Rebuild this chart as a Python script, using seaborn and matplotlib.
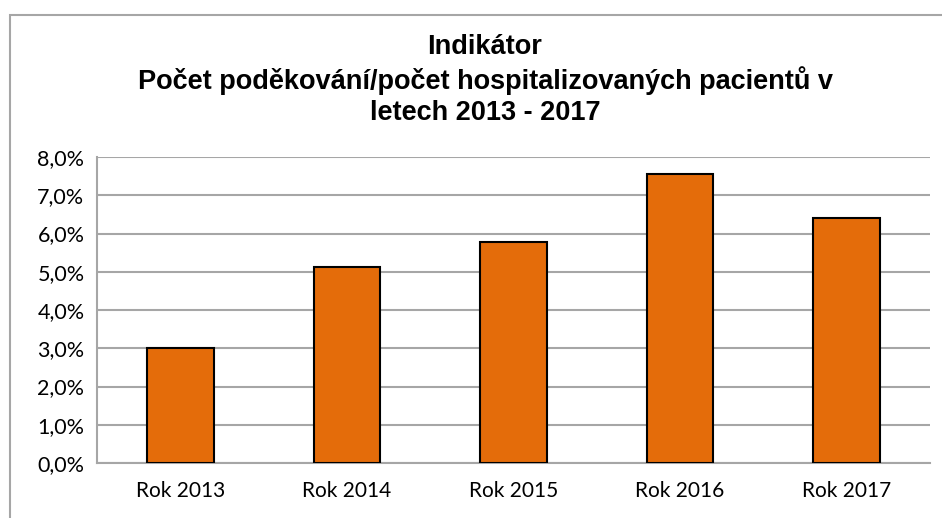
import matplotlib
matplotlib.use('Agg')
import matplotlib.pyplot as plt
import seaborn as sns
import pandas as pd
from matplotlib.patches import Rectangle
from matplotlib.ticker import FuncFormatter, FixedLocator

years = ['Rok 2013', 'Rok 2014', 'Rok 2015', 'Rok 2016', 'Rok 2017']
ratio = [3.0, 5.13, 5.79, 7.55, 6.41]
title = 'Indikátor\nPočet poděkování/počet hospitalizovaných pacientů v\nletech 2013 - 2017'

df = pd.DataFrame({'year': years, 'ratio': ratio})

sns.set_style('white')
plt.rcParams['font.family'] = ['Lato', 'DejaVu Sans']
plt.rcParams['text.color'] = 'black'
plt.rcParams['xtick.labelcolor'] = 'black'
plt.rcParams['ytick.labelcolor'] = 'black'

fig = plt.figure(figsize=(9.42, 5.18), dpi=100)
ax = fig.add_axes([97 / 942, 1 - 463 / 518, 833 / 942, 306 / 518])

sns.barplot(data=df, x='year', y='ratio', color='#E46C0A', saturation=1,
            width=0.4, edgecolor='black', linewidth=1.5, ax=ax, zorder=3)

ax.set_ylim(0, 8)
ax.set_xlim(-0.5, len(years) - 0.5)
ax.set_yticks(range(0, 9))
ax.yaxis.set_major_formatter(FuncFormatter(lambda v, p: f'{v:.1f}%'.replace('.', ',')))
ax.grid(axis='y', color='#A6A6A6', linewidth=1.5, zorder=0)
ax.set_axisbelow(True)
ax.set_xlabel('')
ax.set_ylabel('')

for s in ['top', 'right']:
    ax.spines[s].set_visible(False)
for s in ['left', 'bottom']:
    ax.spines[s].set_color('#A6A6A6')
    ax.spines[s].set_linewidth(1.5)

ax.tick_params(axis='y', length=6, width=1.5, color='#A6A6A6', labelsize=15.5, pad=3)
ax.tick_params(axis='x', which='major', length=0, labelsize=15, pad=13)
ax.xaxis.set_minor_locator(FixedLocator([i - 0.5 for i in range(len(years) + 1)]))
ax.tick_params(axis='x', which='minor', length=7, width=1.5, color='#A6A6A6', direction='out')

fig.text(485 / 942, 1 - 80 / 518, title, ha='center', va='center', fontsize=19.5,
         fontweight='bold', family=['Liberation Sans', 'DejaVu Sans'], linespacing=1.25)

border = Rectangle((10 / 942, -0.1), 1.1, 1 - 15 / 518 + 0.1, transform=fig.transFigure,
                   fill=False, edgecolor='#A6A6A6', linewidth=1.5, clip_on=False)
fig.patches.append(border)

fig.savefig('out.png', dpi=100)
